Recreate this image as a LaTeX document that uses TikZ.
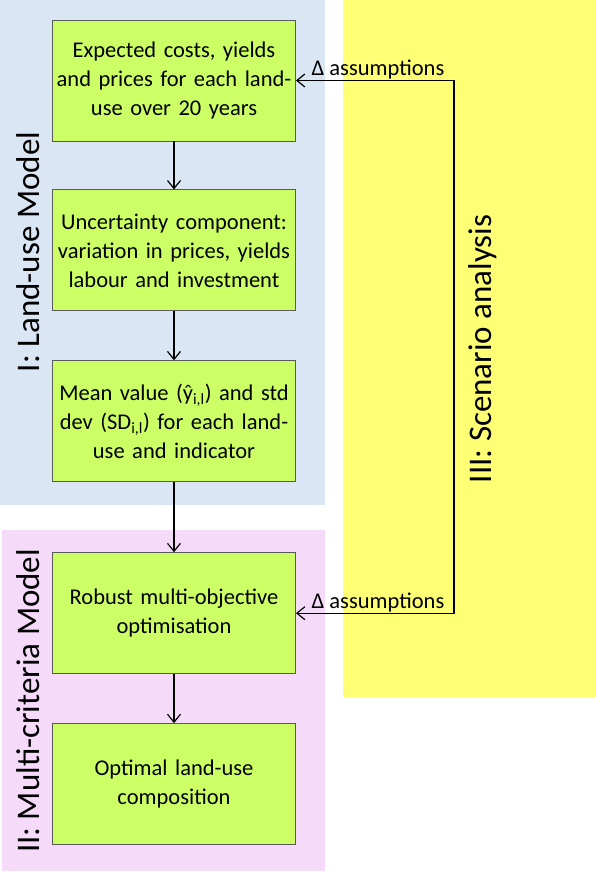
\documentclass[tikz,border=0pt]{standalone}
\usepackage{fontspec}
\setmainfont{Carlito}
\usetikzlibrary{positioning,arrows.meta}
\definecolor{panelblue}{RGB}{219,230,244}
\definecolor{panelpink}{RGB}{245,218,250}
\definecolor{panelyellow}{RGB}{255,255,117}
\definecolor{boxgreen}{RGB}{204,255,102}
\definecolor{boxline}{RGB}{90,90,90}
\begin{document}
\begin{tikzpicture}[
  x=1pt,y=-1pt,
  node distance=48pt,
  box/.style={rectangle,draw=boxline,line width=0.9pt,fill=boxgreen,minimum width=243pt,minimum height=121pt,text width=236pt,align=center,inner sep=0pt,font=\fontsize{22.5}{29}\selectfont},
  panellabel/.style={rotate=90,font=\fontsize{33}{40}\selectfont},
  note/.style={font=\fontsize{22.5}{26}\selectfont,anchor=base,inner sep=0pt},
  arrow/.style={-{Straight Barb[length=8pt,width=13pt]},line width=1.2pt},
  twoway/.style={{Straight Barb[length=8pt,width=13pt]}-{Straight Barb[length=8pt,width=13pt]},line width=1.2pt}
]
\useasboundingbox (0,0) rectangle (596,872);
\fill[panelblue] (0,0) rectangle (325,505);
\fill[panelpink] (2,530) rectangle (325,871);
\fill[panelyellow] (343,0) rectangle (596,697);

\node[panellabel] (lm) at (28,252) {I: Land-use Model};
\node[panellabel] (mc) at (28,701) {II: Multi-criteria Model};
\node[panellabel] (sa) at (483,349) {III: Scenario analysis};

\node[box] (p1) at (174,80.5) {Expected costs, yields\\ and prices for each land-\\ use over 20 years};
\node[box,below=48pt of p1] (p2) {Uncertainty component:\\ variation in prices, yields\\ labour and investment};
\node[box,below=49pt of p2] (p3) {Mean value (ŷ\textsubscript{i,l}) and std\\ dev (SD\textsubscript{i,l}) for each land-\\ use and indicator};
\node[box,below=70pt of p3] (p4) {Robust multi-objective\\ optimisation};
\node[box,below=49pt of p4] (p5) {Optimal land-use\\ composition};

\draw[arrow] (p1) -- (p2);
\draw[arrow] (p2) -- (p3);
\draw[arrow] (p3) -- (p4);
\draw[arrow] (p4) -- (p5);

\coordinate (fb) at (454,0);
\draw[twoway] (p1.east) -- (p1.east -| fb) -- (p4.east -| fb) -- (p4.east);
\node[note] (d1) at ([yshift=4.5pt]p1.east -| 378,0) {Δ assumptions};
\node[note] (d2) at ([yshift=4.5pt]p4.east -| 378,0) {Δ assumptions};
\end{tikzpicture}
\end{document}
